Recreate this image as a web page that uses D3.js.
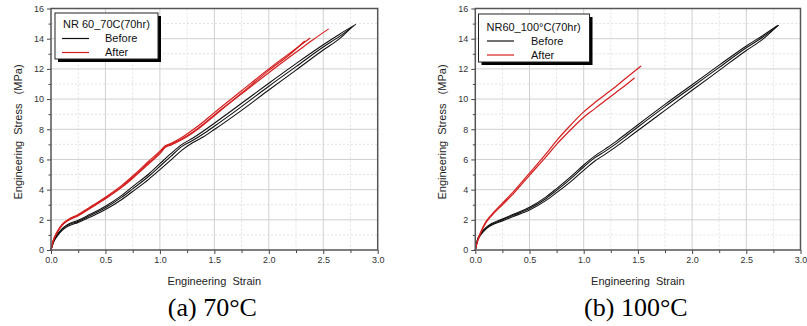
<!DOCTYPE html>
<html>
<head>
<meta charset="utf-8">
<script src="https://cdn.jsdelivr.net/npm/d3@7"></script>
<style>
  body { margin: 0; background: #fff; }
  svg { display: block; }
  .tick-lab { font-family: "Liberation Sans", Arial, sans-serif; font-size: 9px; fill: #333; }
  .ax-title { font-family: "Liberation Sans", Arial, sans-serif; font-size: 11px; fill: #222; white-space: pre; }
  .caption { font-family: "Liberation Serif", "Times New Roman", serif; font-size: 26px; fill: #000; }
  .leg { font-family: "Liberation Sans", Arial, sans-serif; font-size: 11px; fill: #111; }
</style>
</head>
<body>
<div id="chart"></div>
<script>
// tick values
var xTicks = [0.0, 0.5, 1.0, 1.5, 2.0, 2.5, 3.0];
var yTicks = [0, 2, 4, 6, 8, 10, 12, 14, 16];

// (a) 70C - before, three specimens  [strain, stress MPa]
var before70a = [[0,0],[0.02,0.5],[0.05,0.9],[0.1,1.35],[0.15,1.62],[0.25,1.9],[0.35,2.25],[0.5,2.8],[0.65,3.5],[0.75,4.05],[0.9,4.9],[1.0,5.55],[1.1,6.2],[1.2,6.85],[1.3,7.25],[1.4,7.7],[1.5,8.2],[1.75,9.5],[2.0,10.85],[2.25,12.15],[2.5,13.45],[2.65,14.15],[2.78,14.85]];
var before70b = [[0,0],[0.02,0.45],[0.05,0.85],[0.1,1.28],[0.15,1.55],[0.25,1.83],[0.35,2.15],[0.5,2.68],[0.65,3.35],[0.75,3.88],[0.9,4.7],[1.0,5.32],[1.1,5.95],[1.2,6.6],[1.3,7.1],[1.4,7.5],[1.5,7.98],[1.75,9.25],[2.0,10.6],[2.25,11.92],[2.5,13.25],[2.65,14.0],[2.76,14.75]];
var before70c = [[0,0],[0.02,0.55],[0.05,0.95],[0.1,1.4],[0.15,1.68],[0.25,1.97],[0.35,2.33],[0.5,2.9],[0.65,3.62],[0.75,4.2],[0.9,5.05],[1.0,5.72],[1.1,6.38],[1.2,6.98],[1.3,7.4],[1.4,7.88],[1.5,8.4],[1.75,9.72],[2.0,11.05],[2.25,12.35],[2.5,13.6],[2.65,14.3],[2.8,14.95]];

// (a) 70C - after
var after70a = [[0,0],[0.02,0.6],[0.05,1.1],[0.1,1.65],[0.15,1.95],[0.25,2.3],[0.35,2.75],[0.5,3.45],[0.65,4.2],[0.75,4.8],[0.9,5.8],[1.0,6.45],[1.05,6.85],[1.1,7.0],[1.2,7.35],[1.3,7.8],[1.4,8.35],[1.5,8.95],[1.75,10.35],[2.0,11.75],[2.25,13.1],[2.4,13.9],[2.55,14.65]];
var after70b = [[0,0],[0.02,0.62],[0.05,1.12],[0.1,1.68],[0.15,1.98],[0.25,2.35],[0.35,2.8],[0.5,3.5],[0.65,4.28],[0.75,4.9],[0.9,5.9],[1.0,6.55],[1.05,6.9],[1.1,7.05],[1.2,7.45],[1.3,7.95],[1.4,8.5],[1.5,9.1],[1.75,10.55],[2.0,12.0],[2.25,13.35],[2.38,14.05]];
var after70c = [[0,0],[0.02,0.58],[0.05,1.08],[0.1,1.62],[0.15,1.92],[0.25,2.27],[0.35,2.72],[0.5,3.4],[0.65,4.15],[0.75,4.75],[0.9,5.72],[1.0,6.38],[1.05,6.8],[1.1,6.95],[1.2,7.3],[1.3,7.75],[1.4,8.3],[1.5,8.9],[1.75,10.4],[2.0,11.9],[2.2,13.0],[2.33,13.85]];

// (b) 100C - before
var before100a = [[0,0],[0.02,0.65],[0.05,1.05],[0.1,1.45],[0.15,1.7],[0.25,2.0],[0.35,2.3],[0.5,2.75],[0.65,3.4],[0.75,3.95],[0.9,4.85],[1.0,5.5],[1.1,6.1],[1.2,6.55],[1.3,7.05],[1.4,7.6],[1.5,8.15],[1.75,9.5],[2.0,10.8],[2.25,12.1],[2.5,13.4],[2.65,14.1],[2.8,14.9]];
var before100b = [[0,0],[0.02,0.6],[0.05,1.0],[0.1,1.4],[0.15,1.64],[0.25,1.93],[0.35,2.22],[0.5,2.65],[0.65,3.27],[0.75,3.8],[0.9,4.65],[1.0,5.28],[1.1,5.88],[1.2,6.35],[1.3,6.85],[1.4,7.38],[1.5,7.92],[1.75,9.25],[2.0,10.58],[2.25,11.9],[2.5,13.22],[2.65,13.95],[2.78,14.8]];
var before100c = [[0,0],[0.02,0.68],[0.05,1.1],[0.1,1.5],[0.15,1.75],[0.25,2.05],[0.35,2.36],[0.5,2.83],[0.65,3.5],[0.75,4.07],[0.9,4.98],[1.0,5.63],[1.1,6.22],[1.2,6.7],[1.3,7.2],[1.4,7.75],[1.5,8.3],[1.75,9.65],[2.0,10.95],[2.25,12.25],[2.5,13.52],[2.65,14.2],[2.79,14.88]];

// (b) 100C - after
var after100a = [[0,0],[0.02,0.6],[0.05,1.2],[0.1,1.9],[0.15,2.35],[0.25,3.1],[0.35,3.85],[0.5,5.1],[0.65,6.35],[0.75,7.25],[0.85,8.05],[1.0,9.15],[1.1,9.75],[1.2,10.3],[1.3,10.85],[1.4,11.45],[1.53,12.2]];
var after100b = [[0,0],[0.02,0.55],[0.05,1.12],[0.1,1.82],[0.15,2.27],[0.25,3.0],[0.35,3.72],[0.5,4.95],[0.65,6.15],[0.75,7.0],[0.85,7.75],[1.0,8.8],[1.1,9.35],[1.2,9.9],[1.3,10.45],[1.4,11.0],[1.47,11.4]];

var legendTitles = ["NR 60_70C(70hr)", "NR60_100\u00B0C(70hr)"];
var captions = ["(a) 70\u00B0C", "(b) 100\u00B0C"];

var black = "#111";
var red = "#d41e1e";

var panels = [
  { left: 51, right: 377.7, legendTitle: legendTitles[0], caption: captions[0],
    before: [before70a, before70b, before70c], after: [after70a, after70b, after70c],
    leg: { x: 55, y: 13, w: 103, h: 46, lineX: 62, textX: 105, titleY: 27.5, beforeY: 42, afterY: 56 } },
  { left: 475.3, right: 800.5, legendTitle: legendTitles[1], caption: captions[1],
    before: [before100a, before100b, before100c], after: [after100a, after100b],
    leg: { x: 478.5, y: 14, w: 111, h: 48, lineX: 487, textX: 531, titleY: 30.5, beforeY: 44.5, afterY: 58.5 } }
];

var plotTop = 8.5, plotBottom = 250;

var svg = d3.select("#chart").append("svg")
  .attr("width", 807)
  .attr("height", 326);

panels.forEach(function(p) {
  var xScale = d3.scaleLinear().domain([0, 3]).range([p.left, p.right]);
  var yScale = d3.scaleLinear().domain([0, 16]).range([plotBottom, plotTop]);
  var g = svg.append("g");

  // minor grid (dotted)
  var xMinor = d3.range(0.25, 3, 0.5);
  var yMinor = d3.range(1, 16, 2);
  g.append("g").selectAll("line").data(xMinor).enter().append("line")
    .attr("x1", function(d) { return xScale(d); }).attr("x2", function(d) { return xScale(d); })
    .attr("y1", plotTop).attr("y2", plotBottom)
    .attr("stroke", "#e2e2e2").attr("stroke-dasharray", "2,2");
  g.append("g").selectAll("line").data(yMinor).enter().append("line")
    .attr("y1", function(d) { return yScale(d); }).attr("y2", function(d) { return yScale(d); })
    .attr("x1", p.left).attr("x2", p.right)
    .attr("stroke", "#e2e2e2").attr("stroke-dasharray", "2,2");

  // major grid
  g.append("g").selectAll("line").data(xTicks.slice(1, -1)).enter().append("line")
    .attr("x1", function(d) { return xScale(d); }).attr("x2", function(d) { return xScale(d); })
    .attr("y1", plotTop).attr("y2", plotBottom)
    .attr("stroke", "#d0d0d0");
  g.append("g").selectAll("line").data(yTicks.slice(1, -1)).enter().append("line")
    .attr("y1", function(d) { return yScale(d); }).attr("y2", function(d) { return yScale(d); })
    .attr("x1", p.left).attr("x2", p.right)
    .attr("stroke", "#d0d0d0");

  // curves
  var line = d3.line()
    .x(function(d) { return xScale(d[0]); })
    .y(function(d) { return yScale(d[1]); })
    .curve(d3.curveMonotoneX);

  p.before.forEach(function(s) {
    g.append("path").datum(s).attr("d", line)
      .attr("fill", "none").attr("stroke", black).attr("stroke-width", 1.1);
  });
  p.after.forEach(function(s) {
    g.append("path").datum(s).attr("d", line)
      .attr("fill", "none").attr("stroke", red).attr("stroke-width", 1.2);
  });

  // axes
  var xAxis = d3.axisBottom(xScale).tickValues(xTicks).tickFormat(d3.format(".1f")).tickSize(4).tickPadding(3);
  g.append("g").attr("transform", "translate(0," + plotBottom + ")").call(xAxis);
  var xMinorAxis = d3.axisBottom(xScale).tickValues(xMinor).tickFormat("").tickSize(3);
  g.append("g").attr("transform", "translate(0," + plotBottom + ")").call(xMinorAxis);

  var yAxis = d3.axisLeft(yScale).tickValues(yTicks).tickSize(4).tickPadding(3);
  g.append("g").attr("transform", "translate(" + p.left + ",0)").call(yAxis);
  var yMinorAxis = d3.axisLeft(yScale).tickValues(yMinor).tickFormat("").tickSize(2.5);
  g.append("g").attr("transform", "translate(" + p.left + ",0)").call(yMinorAxis);

  g.selectAll(".domain").remove();
  g.selectAll(".tick line").attr("stroke", "#444");
  g.selectAll(".tick text").attr("class", "tick-lab").attr("fill", null);
  g.selectAll("g[font-family]").attr("font-family", null).attr("font-size", null);

  // frame
  g.append("rect")
    .attr("x", p.left).attr("y", plotTop)
    .attr("width", p.right - p.left).attr("height", plotBottom - plotTop)
    .attr("fill", "none").attr("stroke", "#555").attr("stroke-width", 1.5);

  // axis titles
  var cx = (p.left + p.right) / 2;
  g.append("text").attr("class", "ax-title")
    .attr("x", cx).attr("y", 285).attr("text-anchor", "middle")
    .text("Engineering  Strain");
  g.append("text").attr("class", "ax-title")
    .attr("transform", "translate(" + (p.left - 29) + ",132) rotate(-90)")
    .attr("text-anchor", "middle")
    .text("Engineering  Stress   (MPa)");

  // caption
  g.append("text").attr("class", "caption")
    .attr("x", cx - 2).attr("y", 316).attr("text-anchor", "middle")
    .text(p.caption);

  // legend with drop shadow
  var L = p.leg;
  g.append("rect").attr("x", L.x + 3).attr("y", L.y + 3).attr("width", L.w).attr("height", L.h).attr("fill", "#000");
  g.append("rect").attr("x", L.x).attr("y", L.y).attr("width", L.w).attr("height", L.h)
    .attr("fill", "#fff").attr("stroke", "#222").attr("stroke-width", 1);
  g.append("text").attr("class", "leg").attr("x", L.x + 8).attr("y", L.titleY).text(p.legendTitle);
  g.append("line").attr("x1", L.lineX).attr("x2", L.lineX + 27).attr("y1", L.beforeY - 3.5).attr("y2", L.beforeY - 3.5)
    .attr("stroke", black).attr("stroke-width", 1.2);
  g.append("text").attr("class", "leg").attr("x", L.textX).attr("y", L.beforeY).text("Before");
  g.append("line").attr("x1", L.lineX).attr("x2", L.lineX + 27).attr("y1", L.afterY - 3.5).attr("y2", L.afterY - 3.5)
    .attr("stroke", red).attr("stroke-width", 1.2);
  g.append("text").attr("class", "leg").attr("x", L.textX).attr("y", L.afterY).text("After");
});
</script>
</body>
</html>
